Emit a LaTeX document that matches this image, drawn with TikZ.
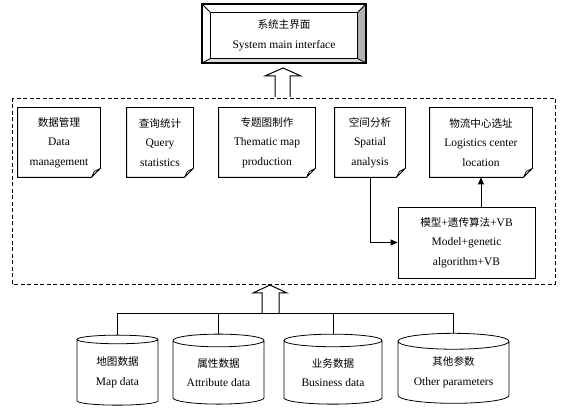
\documentclass[tikz,border=0pt]{standalone}
\usepackage{fontspec}
\setmainfont{Liberation Serif}
\newfontfamily\zh{Noto Sans CJK SC}[Scale=0.92]
\usetikzlibrary{arrows.meta,shapes.geometric}
\tikzset{
  txt/.style={align=center, inner sep=0pt, font=\fontsize{11.5pt}{19.5pt}\selectfont},
  docbox/.style={txt, minimum height=69pt},
  dbase/.style={txt, draw, cylinder, shape border rotate=90, aspect=0.2, minimum height=70pt},
  flow/.style={-{Triangle[length=7pt,width=6pt]}},
  hollow/.style={fill=white, line width=1pt},
}
\begin{document}
\begin{tikzpicture}[x=1pt, y=-1pt, line width=0.8pt]
        \useasboundingbox (0,0) rectangle (566,411);
        % system main interface
        \node[txt, minimum width=146pt, minimum height=45pt] (sys) at (284,35.5) {{\zh 系统主界面}\\System main interface};
        \fill[gray!60] (366,4) -- (366,63) -- (sys.south east) -- (sys.north east) -- cycle;
        \fill[gray!30] (202,63) -- (366,63) -- (sys.south east) -- (sys.south west) -- cycle;
        \draw (sys.north west) rectangle (sys.south east);
        \draw (202,4) -- (sys.north west) (366,4) -- (sys.north east)
              (366,63) -- (sys.south east) (202,63) -- (sys.south west);
        \draw[line width=1.3pt] (202,4) rectangle (366,63);
        \draw[hollow] (275,97) -- (275,76) -- (265,76) -- (283,68) -- (301,76) -- (290,76) -- (290,97);
        % functions
        \draw[dash pattern=on 4pt off 2.5pt] (12,98) rectangle (555,284);
        \node[docbox, minimum width=82pt] (dm) at (59,142.5) {{\zh 数据管理}\\Data\\management};
        \node[docbox, minimum width=66pt] (qs) at (160,142.5) {{\zh 查询统计}\\Query\\statistics};
        \node[docbox, minimum width=96pt] (tm) at (267,142.5) {{\zh 专题图制作}\\Thematic map\\production};
        \node[docbox, minimum width=70pt] (sa) at (370,142.5) {{\zh 空间分析}\\Spatial\\analysis};
        \node[docbox, minimum width=102pt] (lc) at (481,142.5) {{\zh 物流中心选址}\\Logistics center\\location};
        \foreach \n in {dm,qs,tm,sa,lc}
          \draw (\n.north west) -- (\n.north east) -- ([yshift=9pt]\n.south east)
                -- ([xshift=-9pt]\n.south east) -- (\n.south west) -- cycle
                ([yshift=9pt]\n.south east) -- ([xshift=-6pt,yshift=6pt]\n.south east)
                -- ([xshift=-9pt]\n.south east);
        \node[txt, draw, minimum width=137pt, minimum height=71pt] (mdl) at (466.5,242.5)
             {{\zh 模型}+{\zh 遗传算法}+VB\\Model+genetic\\algorithm+VB};
        \draw[flow] (sa.south) |- (mdl.west);
        \draw[flow] (mdl.north -| lc.south) -- (lc.south);
        % data
        \draw[hollow] (262,313) -- (262,293) -- (253,293) -- (270,285) -- (287,293) -- (279,293) -- (279,313);
        \node[dbase, minimum width=81pt] (md) at (117.5,372.5) {{\zh 地图数据}\\Map data};
        \node[dbase, minimum width=91pt] (ad) at (218.5,372.5) {{\zh 属性数据}\\Attribute data};
        \node[dbase, minimum width=98pt] (bd) at (333,372.5) {{\zh 业务数据}\\Business data};
        \node[dbase, minimum width=111pt] (op) at (453.5,372.5) {{\zh 其他参数}\\Other parameters};
        \coordinate (bus) at (0,313);
        \draw (md.top) -- (md.top |- bus) -- (op.top |- bus) -- (op.top);
        \draw (ad.top) -- (ad.top |- bus);
        \draw (bd.top) -- (bd.top |- bus);
\end{tikzpicture}
\end{document}
